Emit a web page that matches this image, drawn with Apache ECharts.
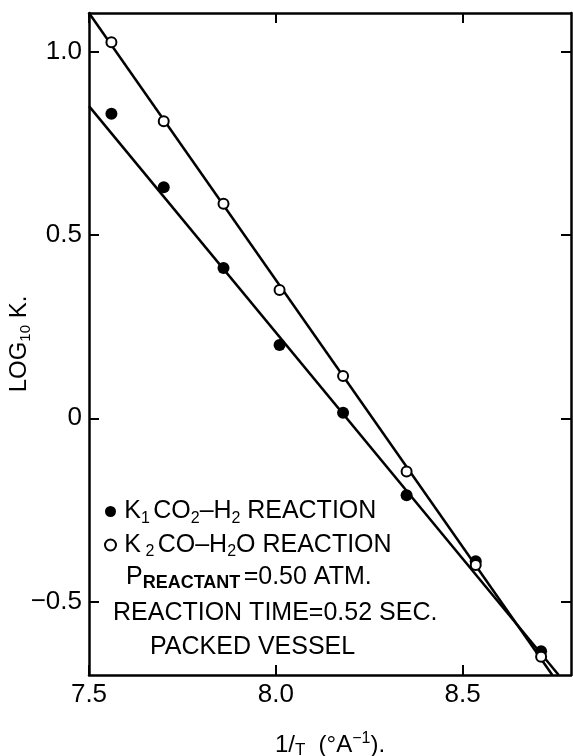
<!DOCTYPE html>
<html>
<head>
<meta charset="utf-8">
<title>LOG10 K vs 1/T</title>
<script src="https://cdn.jsdelivr.net/npm/echarts@6.0.0/dist/echarts.min.js"></script>
<style>
  html, body { margin: 0; padding: 0; background: #fff; }
  #chart { width: 573px; height: 756px; }
</style>
</head>
<body>
<div id="chart"></div>
<script>
  // 1/T, same temperatures for both reactions
  var invT = [7.56, 7.70, 7.86, 8.01, 8.18, 8.35, 8.535, 8.71];
  // K1  CO2-H2 reaction (filled points)
  var logK1 = [0.83, 0.63, 0.41, 0.20, 0.015, -0.21, -0.39, -0.635];
  // K2  CO-H2O reaction (open points)
  var logK2 = [1.025, 0.81, 0.585, 0.35, 0.115, -0.145, -0.40, -0.65];
  // the two straight lines drawn through the points (end points)
  var lineK1 = [[7.5, 0.851], [8.757, -0.7]];
  var lineK2 = [[7.5, 1.105], [8.74, -0.7]];
  var xTicks = [7.5, 8.0, 8.5];
  var yTicks = [-0.5, 0, 0.5, 1.0];

  var FONT = 'Liberation Sans';
  var INK = '#000';

  function pairs(xs, ys) {
    return xs.map(function (x, i) { return [x, ys[i]]; });
  }

  function yLabel(v) {
    if (v === 0) return '0';
    return (v < 0 ? '\u2212' : '') + Math.abs(v).toFixed(1);
  }

  // frame axis: line + inside ticks, labels only on bottom/left
  function frameAxis(pos, min, max, ticks, withLabels, fmt) {
    return {
      type: 'value',
      position: pos,
      min: min,
      max: max,
      nameMoveOverlap: false,
      splitLine: { show: false },
      axisLine: { show: true, onZero: false, lineStyle: { color: INK, width: 2.5 } },
      axisTick: { show: true, inside: true, length: 10, customValues: ticks, lineStyle: { color: INK, width: 2 } },
      axisLabel: {
        show: withLabels,
        customValues: ticks,
        formatter: fmt,
        color: INK,
        fontFamily: FONT,
        fontSize: 26,
        margin: 7
      }
    };
  }

  var xBottom = frameAxis('bottom', 7.5, 8.79, xTicks, true, function (v) { return v.toFixed(1); });
  xBottom.name = '{n|1/}{s|T}    {n|(\u00B0A}{p|\u22121}{n|).}';
  xBottom.nameLocation = 'middle';
  xBottom.nameGap = 56;
  xBottom.nameTextStyle = {
    color: INK,
    fontFamily: FONT,
    rich: {
      n: { fontSize: 24, fontFamily: FONT, color: INK, lineHeight: 28 },
      s: { fontSize: 17, fontFamily: FONT, color: INK, lineHeight: 16, verticalAlign: 'bottom' },
      p: { fontSize: 16, fontFamily: FONT, color: INK, lineHeight: 16, verticalAlign: 'top' }
    }
  };
  var xTop = frameAxis('top', 7.5, 8.79, xTicks, false);

  var yLeft = frameAxis('left', -0.7, 1.105, yTicks, true, yLabel);
  yLeft.name = '{n|LOG}{s|10}{n| K.}';
  yLeft.nameLocation = 'middle';
  yLeft.nameRotate = 90;
  yLeft.nameGap = 56;
  yLeft.nameTextStyle = {
    color: INK,
    fontFamily: FONT,
    rich: {
      n: { fontSize: 24, fontFamily: FONT, color: INK, lineHeight: 28 },
      s: { fontSize: 15, fontFamily: FONT, color: INK, lineHeight: 16, verticalAlign: 'bottom' }
    }
  };
  var yRight = frameAxis('right', -0.7, 1.105, yTicks, false);

  var legendRich = {
    t: { fontSize: 25, fontFamily: FONT, color: INK, lineHeight: 30 },
    s: { fontSize: 16, fontFamily: FONT, color: INK, lineHeight: 16, verticalAlign: 'bottom' }
  };
  var legendText = {
    K1: '{t|K}{s|1} {t|CO}{s|2}{t|\u2013H}{s|2}  {t|REACTION}',
    K2: '{t|K}{s| 2} {t|CO\u2013H}{s|2}{t|O REACTION}'
  };

  var noteRich = {
    t: { fontSize: 25, fontFamily: FONT, color: INK, lineHeight: 30 },
    c: { fontSize: 18, fontWeight: 'bold', fontFamily: FONT, color: INK, lineHeight: 18, verticalAlign: 'bottom' }
  };

  var chart = echarts.init(document.getElementById('chart'));
  chart.setOption({
    backgroundColor: '#fff',
    animation: false,
    grid: { left: 89, right: 2, top: 13, bottom: 81, containLabel: false, outerBoundsMode: 'none' },
    xAxis: [xBottom, xTop],
    yAxis: [yLeft, yRight],
    legend: {
      orient: 'vertical',
      left: 99,
      top: 494,
      itemWidth: 11,
      itemHeight: 11,
      itemGap: 6,
      data: [
        { name: 'K1', icon: 'circle', itemStyle: { color: INK, borderWidth: 0, opacity: 1 } },
        { name: 'K2', icon: 'circle', itemStyle: { color: '#fff', borderColor: INK, borderWidth: 2, opacity: 1 } }
      ],
      formatter: function (name) { return ' ' + legendText[name]; },
      textStyle: { rich: legendRich }
    },
    graphic: [
      { type: 'text', left: 126, top: 565, style: { text: '{t|P}{c|REACTANT} {t|=0.50 ATM.}', rich: noteRich } },
      { type: 'text', left: 113, top: 601, style: { text: '{t|REACTION TIME=0.52 SEC.}', rich: noteRich } },
      { type: 'text', left: 150, top: 635, style: { text: '{t|PACKED VESSEL}', rich: noteRich } }
    ],
    series: [
      {
        name: 'lineK1', type: 'line', data: lineK1, symbol: 'none', silent: true, z: 2,
        lineStyle: { color: INK, width: 2.5 }
      },
      {
        name: 'lineK2', type: 'line', data: lineK2, symbol: 'none', silent: true, z: 2,
        lineStyle: { color: INK, width: 2.5 }
      },
      {
        name: 'K1', type: 'scatter', data: pairs(invT, logK1), symbol: 'circle', symbolSize: 12, z: 3,
        itemStyle: { color: INK, opacity: 1 }
      },
      {
        name: 'K2', type: 'scatter', data: pairs(invT, logK2), symbol: 'circle', symbolSize: 10, z: 4,
        itemStyle: { color: '#fff', borderColor: INK, borderWidth: 2, opacity: 1 }
      }
    ]
  });
</script>
</body>
</html>
